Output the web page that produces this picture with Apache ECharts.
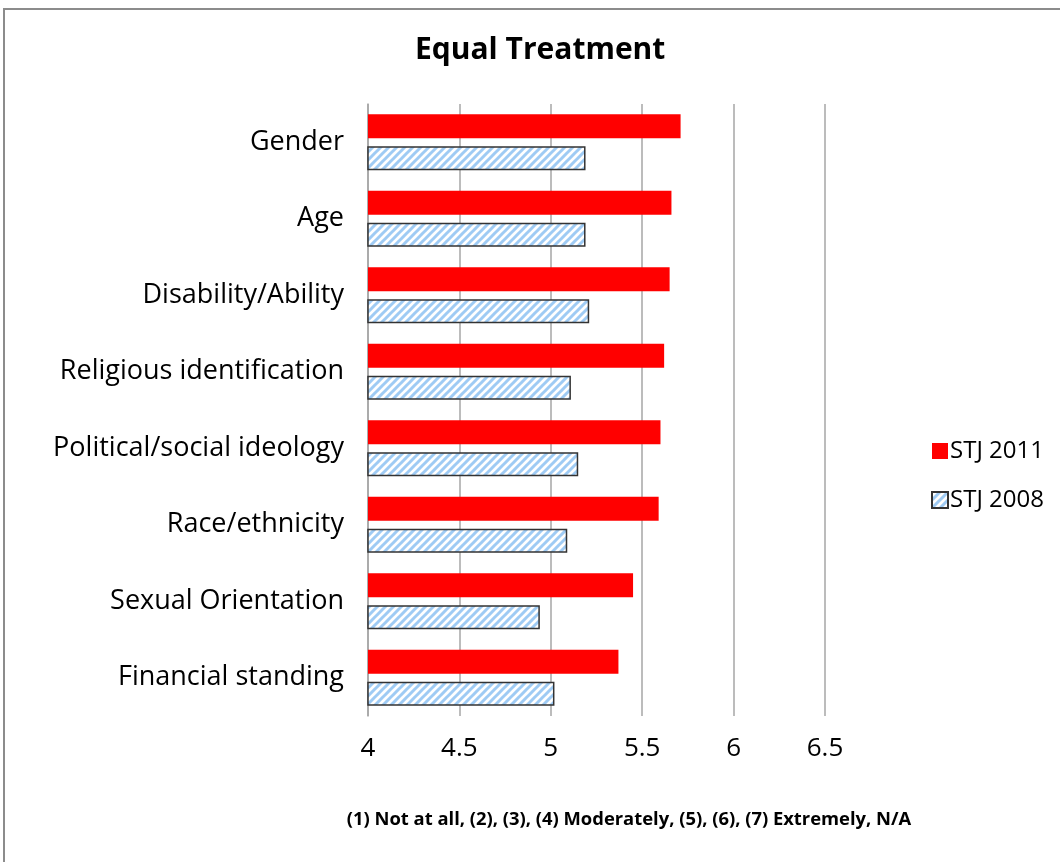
<!DOCTYPE html>
<html>
<head>
<meta charset="utf-8">
<title>Equal Treatment</title>
<script src="https://cdn.jsdelivr.net/npm/echarts@6/dist/echarts.min.js"></script>
<style>
  html, body { margin: 0; padding: 0; background: #ffffff; }
  #chart { width: 1060px; height: 862px; }
</style>
</head>
<body>
<div id="chart"></div>
<script>
// Survey items, top to bottom
const categories = [
  'Gender',
  'Age',
  'Disability/Ability',
  'Religious identification',
  'Political/social ideology',
  'Race/ethnicity',
  'Sexual Orientation',
  'Financial standing'
];

// Mean ratings per item
const stj2011 = [5.71, 5.66, 5.65, 5.62, 5.60, 5.59, 5.45, 5.37];
const stj2008 = [5.19, 5.19, 5.21, 5.11, 5.15, 5.09, 4.94, 5.02];

const seriesNames = ['STJ 2011', 'STJ 2008'];
const axisTicks = ['4', '4.5', '5', '5.5', '6', '6.5'];

const FONT = '"Open Sans", "Noto Sans", sans-serif';

// Light-blue diagonal hatch used for the 2008 bars
function makeHatch() {
  const size = 8;
  const c = document.createElement('canvas');
  c.width = size; c.height = size;
  const ctx = c.getContext('2d');
  ctx.fillStyle = '#ffffff';
  ctx.fillRect(0, 0, size, size);
  ctx.strokeStyle = '#9fcbf4';
  ctx.lineWidth = 3;
  ctx.beginPath();
  for (let k = -1; k <= 1; k++) {
    ctx.moveTo(k * size - 1, size + 1);
    ctx.lineTo(k * size + size + 1, -1);
  }
  ctx.stroke();
  return c;
}
const hatch = makeHatch();

const chart = echarts.init(document.getElementById('chart'), null, { renderer: 'canvas' });

chart.setOption({
  backgroundColor: '#ffffff',
  animation: false,
  title: {
    text: 'Equal Treatment',
    left: 410,
    top: 30,
    textStyle: { fontFamily: FONT, fontWeight: 'bold', fontSize: 30, color: '#000000' }
  },
  legend: {
    orient: 'vertical',
    left: 926,
    top: 434,
    itemWidth: 16,
    itemHeight: 16,
    itemGap: 25,
    icon: 'rect',
    data: seriesNames,
    textStyle: { fontFamily: FONT, fontSize: 24, color: '#000000', padding: [0, 0, 0, -3] }
  },
  grid: {
    left: 368,
    right: 235,
    top: 104,
    bottom: 146,
    containLabel: false
  },
  xAxis: {
    type: 'value',
    min: 4,
    max: 6.5,
    interval: 0.5,
    axisLine: { show: false },
    axisTick: { show: false },
    splitLine: { show: true, lineStyle: { color: '#a6a6a6', width: 1.5 } },
    axisLabel: {
      fontFamily: FONT,
      fontSize: 26,
      color: '#000000',
      margin: 20,
      formatter: function (v) {
        const idx = Math.round((v - 4) / 0.5);
        return axisTicks[idx] !== undefined ? axisTicks[idx] : '';
      }
    }
  },
  yAxis: {
    type: 'category',
    data: categories,
    inverse: true,
    axisLine: { show: true, lineStyle: { color: '#a6a6a6', width: 1.5 } },
    axisTick: { show: false },
    splitLine: { show: false },
    axisLabel: {
      fontFamily: FONT,
      fontSize: 27,
      color: '#000000',
      margin: 24
    }
  },
  series: [
    {
      name: seriesNames[0],
      type: 'bar',
      data: stj2011,
      barWidth: 24,
      barGap: '33%',
      itemStyle: { color: '#ff0000' }
    },
    {
      name: seriesNames[1],
      type: 'bar',
      data: stj2008,
      barWidth: 24,
      barGap: '33%',
      itemStyle: {
        color: { image: hatch, repeat: 'repeat' },
        borderColor: '#333333',
        borderWidth: 1.5
      }
    }
  ],
  graphic: [
    {
      type: 'polyline',
      shape: { points: [[4, 870], [4, 9], [1070, 9]] },
      style: { stroke: '#8c8c8c', lineWidth: 2, fill: null },
      silent: true
    },
    {
      type: 'text',
      x: 629,
      y: 820,
      silent: true,
      style: {
        text: '(1) Not at all, (2), (3), (4) Moderately, (5), (6), (7) Extremely, N/A',
        fontFamily: FONT,
        fontWeight: 'bold',
        fontSize: 18.4,
        fill: '#000000',
        align: 'center',
        verticalAlign: 'middle'
      }
    }
  ]
});
</script>
</body>
</html>
